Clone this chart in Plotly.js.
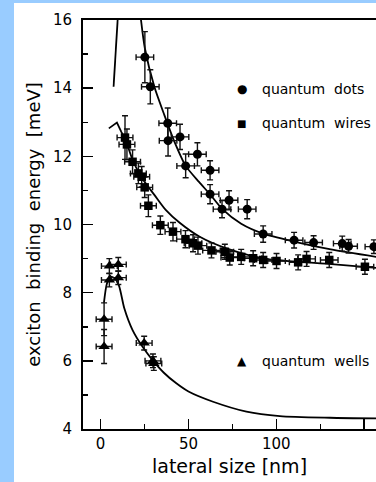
<!DOCTYPE html>
<html>
<head>
<meta charset="utf-8">
<script src="https://cdn.plot.ly/plotly-3.0.1.min.js"></script>
<style>
  html, body { margin: 0; padding: 0; width: 376px; height: 482px; background: rgb(153,204,255); overflow: hidden; }
  #chart { position: absolute; left: 14px; top: 3px; width: 362px; height: 479px; background: #ffffff; }
</style>
</head>
<body>
<div id="chart"></div>
<script>
// ---- data ----
// quantum dots (circles)
const dotsX    = [25.2, 28.3, 38.2, 38.4, 45.2, 55.1, 48.4, 62.3, 62.3, 73.1, 69.1, 83.4, 92.5, 110.1, 121.2, 137.5, 141.1, 155.5];
const dotsY    = [14.91, 14.04, 12.97, 12.46, 12.57, 12.06, 11.72, 11.59, 10.89, 10.71, 10.45, 10.45, 9.72, 9.54, 9.47, 9.44, 9.36, 9.35];
const dotsXErr = [5, 5, 5, 5, 5, 5, 5, 5, 5, 5, 5, 5, 5, 5, 5, 5, 5, 5];
const dotsYErr = [0.75, 0.5, 0.45, 0.45, 0.37, 0.34, 0.35, 0.28, 0.28, 0.28, 0.25, 0.28, 0.24, 0.23, 0.2, 0.22, 0.2, 0.2];

// quantum wires (squares)
const wiresX    = [13.9, 15.0, 18.2, 21.5, 23.4, 25.1, 27.2, 34.0, 41.2, 48.3, 52.6, 55.4, 63.1, 70.7, 73.5, 80.0, 86.8, 92.5, 100.1, 112.4, 117.2, 130.1, 150.4];
const wiresY    = [12.55, 12.35, 11.84, 11.50, 11.40, 11.09, 10.55, 9.98, 9.79, 9.57, 9.45, 9.38, 9.24, 9.20, 9.03, 9.05, 9.01, 8.96, 8.93, 8.89, 8.99, 8.96, 8.76];
const wiresXErr = [4.5, 4.5, 4.5, 4.5, 4.5, 4.5, 4.5, 4.5, 4.5, 5, 5, 5, 5, 5, 5, 5, 5, 5, 5, 5, 5, 5, 5];
const wiresYErr = [0.64, 0.45, 0.35, 0.3, 0.3, 0.3, 0.32, 0.27, 0.27, 0.25, 0.25, 0.25, 0.22, 0.22, 0.22, 0.22, 0.22, 0.22, 0.22, 0.22, 0.22, 0.22, 0.22];

// quantum wells (triangles)
const wellsX    = [2.0, 2.0, 5.0, 5.0, 10.1, 10.1, 24.8, 29.8, 30.3];
const wellsY    = [7.22, 6.42, 8.78, 8.37, 8.83, 8.44, 6.52, 6.00, 5.92];
const wellsXErr = [4.5, 4.5, 4.5, 4.5, 4.5, 4.5, 4.5, 4.5, 4.5];
const wellsYErr = [0.48, 0.5, 0.22, 0.2, 0.2, 0.2, 0.2, 0.2, 0.2];

// theory curves
const dotsCurveX  = [23.0, 25.2, 30.6, 36.3, 42.0, 48.4, 56.0, 62.2, 69.3, 80.0, 92.5, 110.0, 131.0, 157.0];
const dotsCurveY  = [16.0, 15.17, 14.04, 13.21, 12.43, 11.72, 11.25, 10.89, 10.45, 10.02, 9.73, 9.50, 9.27, 9.05];
const dotsBranchX = [9.7, 7.4];
const dotsBranchY = [16.0, 14.04];
const wiresKinkX  = [4.7, 9.3, 11.8, 14.5];
const wiresKinkY  = [12.82, 12.99, 12.72, 12.45];
const wiresCurveX = [14.5, 18.2, 22.0, 24.9, 30.6, 37.2, 45.0, 56.4, 71.6, 93.4, 131.4, 156.7];
const wiresCurveY = [12.45, 11.9, 11.5, 11.26, 10.87, 10.42, 10.05, 9.64, 9.30, 9.00, 8.84, 8.73];
const wellsCurveX = [1.9, 3.5, 5.5, 8.0, 10.5, 13.5, 18.2, 23.9, 29.6, 36.0, 43.1, 50.0, 64.0, 83.0, 102.0, 130.5, 156.7];
const wellsCurveY = [7.7, 8.25, 8.47, 8.42, 8.2, 7.54, 6.9, 6.41, 6.02, 5.65, 5.34, 5.10, 4.80, 4.51, 4.38, 4.33, 4.31];

// axis ticks and labels
const xTicks = [0, 50, 100, 150];
const yTicks = [4, 6, 8, 10, 12, 14, 16];
const legendLabels = ['quantum  dots', 'quantum  wires', 'quantum  wells'];
const legendSymbols = ['●', '■', '▲'];

// ---- drawing ----
const ink = '#000000';
const errStyle = (arr, w) => ({ type: 'data', array: arr, visible: true, color: '#111', thickness: 1.4, width: w });

function pointTrace(x, y, ex, ey, symbol, size) {
  return {
    type: 'scatter', mode: 'markers', x: x, y: y,
    marker: { symbol: symbol, size: size, color: ink },
    error_x: errStyle(ex, 3), error_y: errStyle(ey, 3),
    showlegend: false, hoverinfo: 'skip'
  };
}
function curveTrace(x, y, smooth) {
  return {
    type: 'scatter', mode: 'lines', x: x, y: y,
    line: { color: ink, width: 1.8, shape: smooth ? 'spline' : 'linear', smoothing: 0.7 },
    showlegend: false, hoverinfo: 'skip'
  };
}

const data = [
  curveTrace(dotsCurveX, dotsCurveY, true),
  curveTrace(dotsBranchX, dotsBranchY, false),
  curveTrace(wiresKinkX, wiresKinkY, false),
  curveTrace(wiresCurveX, wiresCurveY, true),
  curveTrace(wellsCurveX, wellsCurveY, true),
  pointTrace(dotsX, dotsY, dotsXErr, dotsYErr, 'circle', 9),
  pointTrace(wiresX, wiresY, wiresXErr, wiresYErr, 'square', 8.5),
  pointTrace(wellsX, wellsY, wellsXErr, wellsYErr, 'triangle-up', 10)
];

const tickFont = { family: 'DejaVu Sans', size: 15, color: ink };
const legendY = [0.831, 0.748, 0.166];
const annotations = [];
for (let i = 0; i < legendLabels.length; i++) {
  annotations.push({
    xref: 'paper', yref: 'paper', x: 0.541, y: legendY[i], xanchor: 'center', yanchor: 'middle',
    text: legendSymbols[i], showarrow: false,
    font: { family: 'DejaVu Sans', size: i === 1 ? 10 : 12, color: ink }
  });
  annotations.push({
    xref: 'paper', yref: 'paper', x: 0.604, y: legendY[i], xanchor: 'left', yanchor: 'middle',
    text: legendLabels[i], showarrow: false,
    font: { family: 'DejaVu Sans', size: 14, color: ink }
  });
}

const layout = {
  width: 362, height: 479,
  margin: { l: 69, r: 0, t: 17, b: 53 },
  paper_bgcolor: '#ffffff', plot_bgcolor: '#ffffff',
  showlegend: false,
  xaxis: {
    range: [-10, 156.7], tickmode: 'array', tickvals: xTicks, ticktext: xTicks.map(String),
    ticks: 'inside', ticklen: 10, tickwidth: 1.5, tickcolor: ink,
    minor: { dtick: 25, tick0: 0, ticks: 'inside', ticklen: 5, tickwidth: 1.5, tickcolor: ink },
    showline: true, linewidth: 2, linecolor: ink, mirror: true,
    showgrid: false, zeroline: false, tickfont: tickFont,
    title: { text: 'lateral size [nm]', font: { family: 'DejaVu Sans', size: 19, color: ink }, standoff: 8 }
  },
  yaxis: {
    range: [4, 16], tickmode: 'array', tickvals: yTicks, ticktext: yTicks.map(String),
    ticks: 'inside', ticklen: 10, tickwidth: 1.5, tickcolor: ink,
    minor: { dtick: 1, tick0: 0, ticks: 'inside', ticklen: 5, tickwidth: 1.5, tickcolor: ink },
    showline: true, linewidth: 2, linecolor: ink,
    showgrid: false, zeroline: false, tickfont: tickFont, ticklabelstandoff: 6,
    title: { text: 'exciton  binding  energy  [meV]', font: { family: 'DejaVu Sans', size: 18, color: ink }, standoff: 8 }
  },
  annotations: annotations
};

Plotly.newPlot('chart', data, layout, { displayModeBar: false, staticPlot: true });
</script>
</body>
</html>
